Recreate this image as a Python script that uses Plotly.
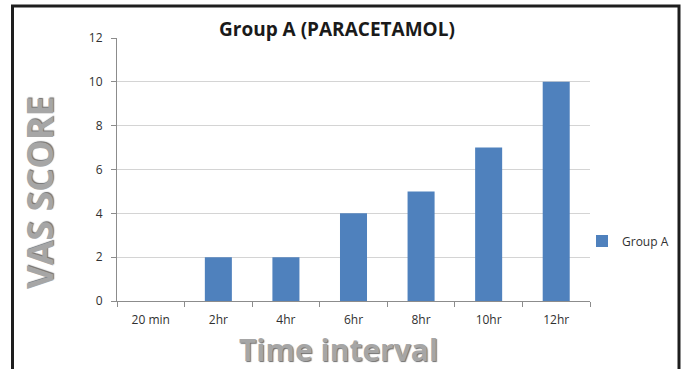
import plotly.graph_objects as go

# VAS scores for Group A over time
time_labels = ["20 min", "2hr", "4hr", "6hr", "8hr", "10hr", "12hr"]
vas_scores = [0, 2, 2, 4, 5, 7, 10]
y_ticks = [0, 2, 4, 6, 8, 10, 12]

W, H = 683, 369
L, R, T, B = 117, 93, 38, 68
pw, ph = W - L - R, H - T - B


def px(x):
    return (x - L) / pw


def py(y):
    return (H - B - y) / ph


fig = go.Figure()
fig.add_trace(go.Bar(
    x=time_labels, y=vas_scores, name="Group A",
    marker=dict(color="#4F81BD", line=dict(width=0)),
    width=0.4,
))

fig.update_layout(
    width=W, height=H,
    margin=dict(l=L, r=R, t=T, b=B, autoexpand=False),
    paper_bgcolor="white", plot_bgcolor="white",
    font=dict(family="Open Sans, Arial, sans-serif", color="#404040", size=12),
    showlegend=True,
    legend=dict(x=px(582), y=py(241), xanchor="left", yanchor="middle",
                font=dict(size=12, color="#303030"), itemwidth=30,
                bgcolor="rgba(0,0,0,0)"),
    bargap=0.6,
)

fig.update_xaxes(
    type="category", showgrid=False, showline=True, linecolor="#8c8c8c", linewidth=1,
    ticks="outside", tickson="boundaries", ticklen=5, tickcolor="#8c8c8c",
    ticklabelstandoff=8,
    tickfont=dict(size=12, color="#303030"),
)
fig.update_yaxes(
    range=[0, 12], tickvals=y_ticks, showgrid=True, gridcolor="#d4d4d4", gridwidth=1,
    showline=True, linecolor="#8c8c8c", linewidth=1, zeroline=False,
    ticks="outside", ticklen=5, tickcolor="#8c8c8c",
    ticklabelstandoff=6,
    tickfont=dict(size=12, color="#303030"),
)

# Chart title
fig.add_annotation(
    text="<b>Group A (PARACETAMOL)</b>", xref="paper", yref="paper",
    x=px(337), y=py(29), xanchor="center", yanchor="middle", showarrow=False,
    font=dict(size=19, color="#1a1a1a", family="Open Sans, Arial, sans-serif"),
)
# Axis titles in embossed grey lettering
fig.add_annotation(
    text="<b>VAS SCORE</b>", xref="paper", yref="paper",
    x=px(39), y=py(193), xanchor="center", yanchor="middle", textangle=-90,
    showarrow=False,
    font=dict(size=36, color="#a6a6a6", family="Open Sans, Arial, sans-serif",
              shadow="1px 1px 1px #6f6f6f"),
)
fig.add_annotation(
    text="<b>Time interval</b>", xref="paper", yref="paper",
    x=px(338), y=py(349), xanchor="center", yanchor="middle",
    showarrow=False,
    font=dict(size=30, color="#a6a6a6", family="Open Sans, Arial, sans-serif",
              shadow="1px 1px 1px #6f6f6f"),
)

# Frame around the figure (open at the bottom)
x0, x1, ytop, ybot = px(12.5), px(679), py(6), py(372)
fig.add_shape(
    type="path", xref="paper", yref="paper",
    path=f"M {x0} {ybot} L {x0} {ytop} L {x1} {ytop} L {x1} {ybot}",
    line=dict(color="#1e1e1e", width=3),
)

fig.write_html("out.html")
